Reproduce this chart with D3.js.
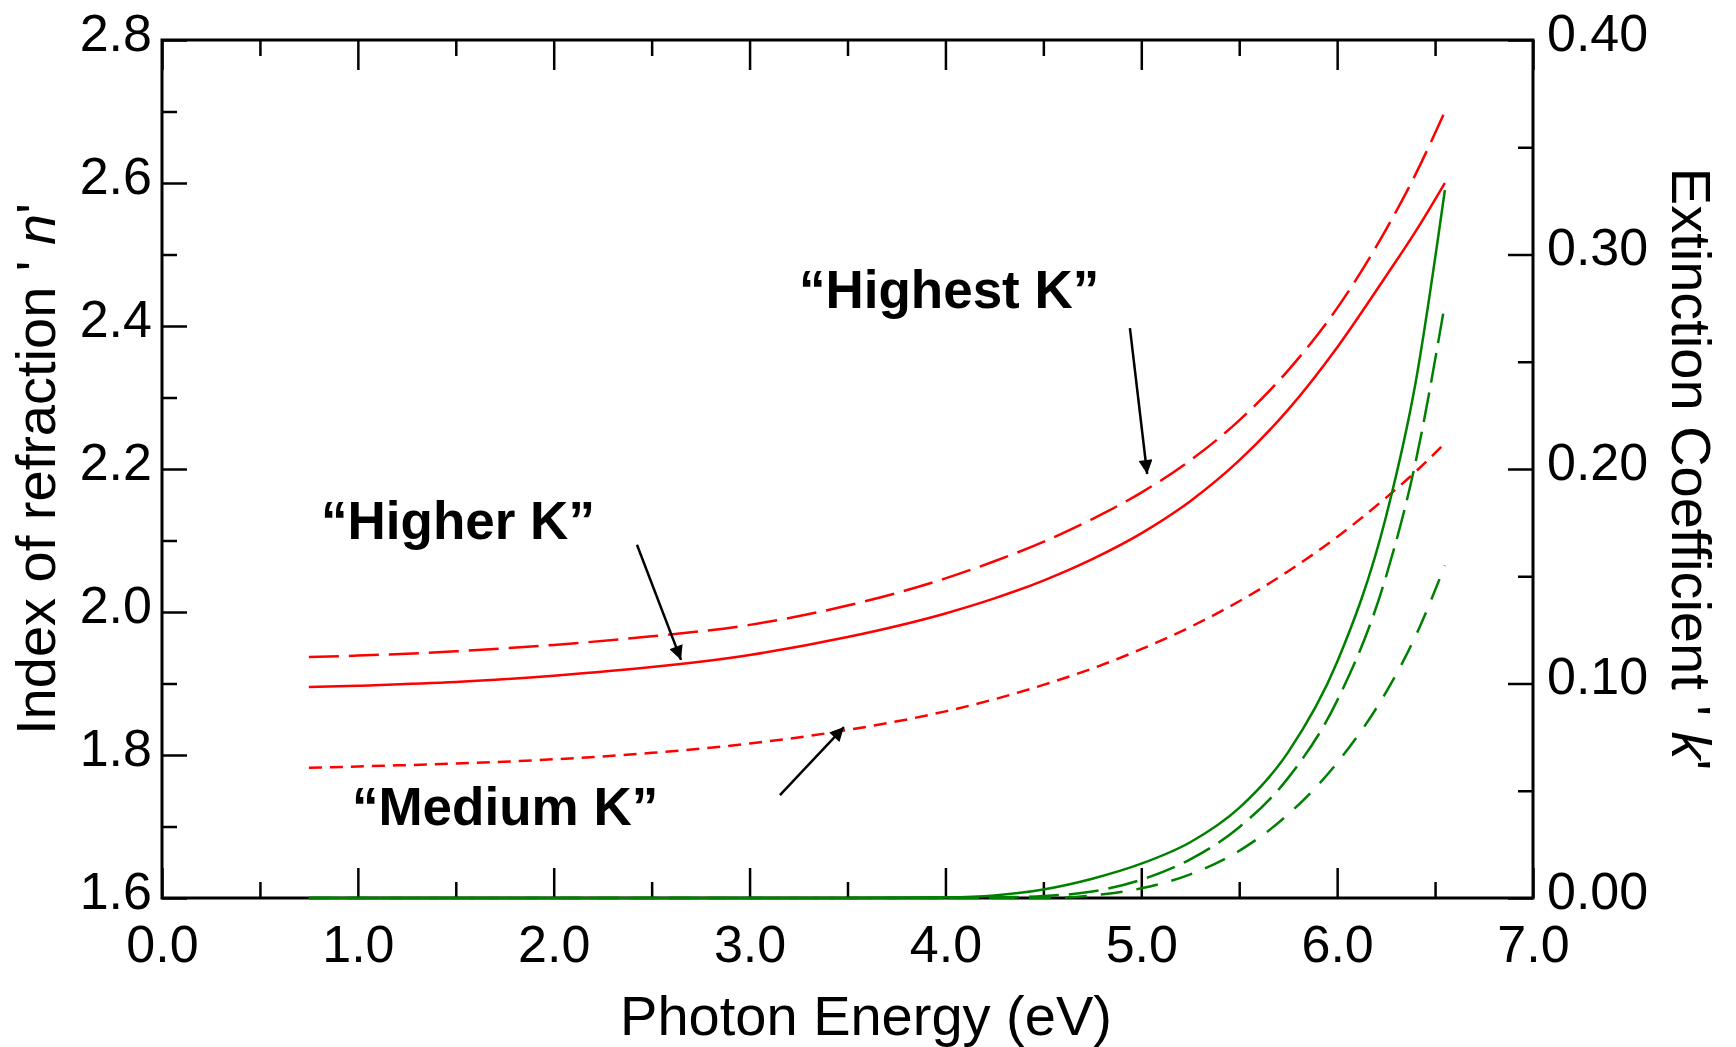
<!DOCTYPE html>
<html>
<head>
<meta charset="utf-8">
<script src="https://cdn.jsdelivr.net/npm/d3@7"></script>
<style>
  body { margin: 0; background: #fff; }
  text { font-family: "Liberation Sans", Arial, sans-serif; }
</style>
</head>
<body>
<script>
// photon energy (eV)
const energy = [0.75, 1.0, 1.5, 2.0, 2.5, 3.0, 3.5, 4.0, 4.25, 4.5, 4.75, 5.0, 5.25, 5.5, 5.75, 6.0, 6.25, 6.4, 6.55];

// index of refraction n
const nHigher  = [1.895, 1.897, 1.902, 1.911, 1.923, 1.940, 1.965, 1.998, 2.019, 2.044, 2.074, 2.110, 2.155, 2.212, 2.283, 2.370, 2.470, 2.532, 2.600];
const nHighest = [1.937, 1.939, 1.945, 1.954, 1.966, 1.982, 2.009, 2.047, 2.071, 2.098, 2.130, 2.167, 2.212, 2.268, 2.338, 2.425, 2.535, 2.612, 2.700];
const nMedium  = [1.782, 1.784, 1.788, 1.794, 1.803, 1.816, 1.835, 1.861, 1.878, 1.898, 1.921, 1.948, 1.979, 2.015, 2.057, 2.105, 2.160, 2.196, 2.236];

// extinction coefficient k
const kSolid = [0, 0, 0, 0, 0, 0, 0, 0.0003, 0.0012, 0.004, 0.009, 0.016, 0.026, 0.042, 0.068, 0.110, 0.178, 0.240, 0.330];
const kLong  = [0, 0, 0, 0, 0, 0, 0, 0, 0.0002, 0.0009, 0.003, 0.0085, 0.018, 0.033, 0.056, 0.092, 0.150, 0.203, 0.277];
const kShort = [0, 0, 0, 0, 0, 0, 0, 0, 0, 0, 0.0012, 0.0045, 0.011, 0.022, 0.039, 0.063, 0.096, 0.122, 0.155];

const xTicks = [0, 1, 2, 3, 4, 5, 6, 7];
const xMinor = [0.5, 1.5, 2.5, 3.5, 4.5, 5.5, 6.5];
const nTicks = [1.6, 1.8, 2.0, 2.2, 2.4, 2.6, 2.8];
const nMinor = [1.7, 1.9, 2.1, 2.3, 2.5, 2.7];
const kTicks = [0, 0.1, 0.2, 0.3, 0.4];
const kMinor = [0.05, 0.15, 0.25, 0.35];

// annotations: [label, textE, textN, arrowFromE, arrowFromN, arrowToE, arrowToN]
const notes = [
  ["\u201cHighest K\u201d", 3.252, 2.425, 4.942, 2.397, 5.03, 2.193],
  ["\u201cHigher K\u201d", 0.812, 2.102, 2.425, 2.094, 2.65, 1.933],
  ["\u201cMedium K\u201d", 0.970, 1.702, 3.155, 1.744, 3.482, 1.839]
];

const W = 1736, H = 1047;
const mLeft = 162, mRight = 1533, mTop = 40, mBottom = 898;

const svg = d3.select("body").append("svg")
  .attr("width", W)
  .attr("height", H);

const x = d3.scaleLinear().domain([0, 7]).range([mLeft, mRight]);
const yN = d3.scaleLinear().domain([1.6, 2.8]).range([mBottom, mTop]);
const yK = d3.scaleLinear().domain([0, 0.4]).range([mBottom, mTop]);

function styleAxis(g) {
  g.select(".domain").remove();
  g.selectAll(".tick line").attr("stroke", "#000").attr("stroke-width", 2.5);
  g.selectAll("text").attr("fill", "#000").style("font-size", "52px");
}

// bottom
svg.append("g").attr("transform", `translate(0,${mBottom})`)
  .call(d3.axisBottom(x).tickValues(xTicks).tickSize(-30).tickPadding(0).tickFormat(d3.format(".1f")))
  .call(styleAxis)
  .selectAll("text").attr("dy", null).attr("y", 64);
svg.append("g").attr("transform", `translate(0,${mBottom})`)
  .call(d3.axisBottom(x).tickValues(xMinor).tickSize(-16).tickFormat(""))
  .call(styleAxis);
// top
svg.append("g").attr("transform", `translate(0,${mTop})`)
  .call(d3.axisTop(x).tickValues(xTicks).tickSize(-30).tickFormat(""))
  .call(styleAxis);
svg.append("g").attr("transform", `translate(0,${mTop})`)
  .call(d3.axisTop(x).tickValues(xMinor).tickSize(-16).tickFormat(""))
  .call(styleAxis);
// left
svg.append("g").attr("transform", `translate(${mLeft},0)`)
  .call(d3.axisLeft(yN).tickValues(nTicks).tickSize(-25).tickPadding(0).tickFormat(d3.format(".1f")))
  .call(styleAxis)
  .selectAll("text").attr("dy", null).attr("x", -10).attr("y", 10);
svg.append("g").attr("transform", `translate(${mLeft},0)`)
  .call(d3.axisLeft(yN).tickValues(nMinor).tickSize(-15).tickFormat(""))
  .call(styleAxis);
// right
svg.append("g").attr("transform", `translate(${mRight},0)`)
  .call(d3.axisRight(yK).tickValues(kTicks).tickSize(-25).tickPadding(0).tickFormat(d3.format(".2f")))
  .call(styleAxis)
  .selectAll("text").attr("dy", null).attr("x", 14).attr("y", 10);
svg.append("g").attr("transform", `translate(${mRight},0)`)
  .call(d3.axisRight(yK).tickValues(kMinor).tickSize(-15).tickFormat(""))
  .call(styleAxis);

// frame
svg.append("rect")
  .attr("x", mLeft).attr("y", mTop)
  .attr("width", mRight - mLeft).attr("height", mBottom - mTop)
  .attr("fill", "none").attr("stroke", "#000").attr("stroke-width", 3);

// curves
const series = [
  { v: nHighest, y: yN, color: "#ff0000", dash: "30,10" },
  { v: nHigher,  y: yN, color: "#ff0000", dash: null },
  { v: nMedium,  y: yN, color: "#ff0000", dash: "13,8" },
  { v: kSolid,   y: yK, color: "#008000", dash: null },
  { v: kLong,    y: yK, color: "#008000", dash: "30,10" },
  { v: kShort,   y: yK, color: "#008000", dash: "22,14" }
];

series.forEach(function(s) {
  const line = d3.line()
    .x(function(d, i) { return x(energy[i]); })
    .y(function(d) { return s.y(d); })
    .curve(d3.curveMonotoneX);
  svg.append("path")
    .datum(s.v)
    .attr("d", line)
    .attr("fill", "none")
    .attr("stroke", s.color)
    .attr("stroke-width", 2.5)
    .attr("stroke-dasharray", s.dash);
});

// arrows
svg.append("defs").append("marker")
  .attr("id", "head")
  .attr("viewBox", "0 0 10 10")
  .attr("refX", 10).attr("refY", 5)
  .attr("markerWidth", 18).attr("markerHeight", 14)
  .attr("markerUnits", "userSpaceOnUse")
  .attr("orient", "auto")
  .append("path").attr("d", "M0,0L10,5L0,10z").attr("fill", "#000");

notes.forEach(function(a) {
  svg.append("text")
    .attr("x", x(a[1])).attr("y", yN(a[2]))
    .style("font-size", "53px").style("font-weight", "bold")
    .text(a[0]);
  svg.append("line")
    .attr("x1", x(a[3])).attr("y1", yN(a[4]))
    .attr("x2", x(a[5])).attr("y2", yN(a[6]))
    .attr("stroke", "#000").attr("stroke-width", 2.5)
    .attr("marker-end", "url(#head)");
});

// axis titles
svg.append("text")
  .attr("x", 866).attr("y", 1035)
  .attr("text-anchor", "middle")
  .style("font-size", "56px")
  .text("Photon Energy (eV)");

const lt = svg.append("text")
  .attr("transform", `translate(55,${(mTop + mBottom) / 2}) rotate(-90)`)
  .attr("text-anchor", "middle")
  .style("font-size", "56px");
lt.append("tspan").text("Index of refraction ' ");
lt.append("tspan").style("font-style", "italic").text("n");
lt.append("tspan").text("'");

const rt = svg.append("text")
  .attr("transform", `translate(1672,${(mTop + mBottom) / 2}) rotate(90)`)
  .attr("text-anchor", "middle")
  .style("font-size", "56px");
rt.append("tspan").text("Extinction Coefficient ' ");
rt.append("tspan").style("font-style", "italic").text("k");
rt.append("tspan").text("'");
</script>
</body>
</html>
